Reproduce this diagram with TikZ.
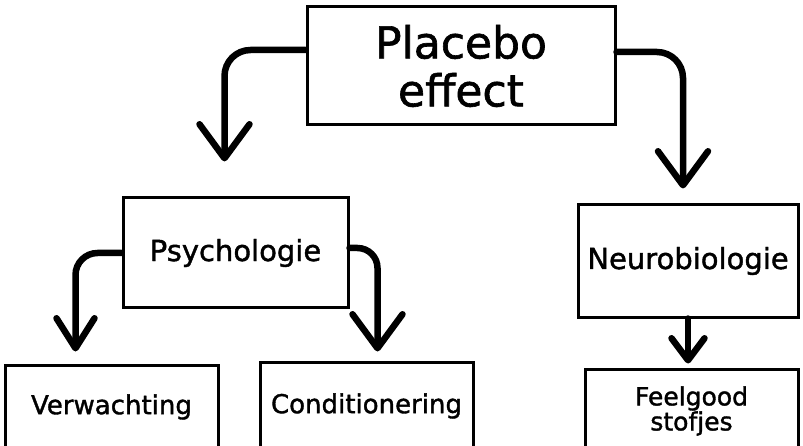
\documentclass[tikz,border=0pt]{standalone}
\usepackage{fontspec}
\setmainfont{DejaVu Sans}[FakeBold=1.4]
\usetikzlibrary{arrows.meta}

\begin{document}
\begin{tikzpicture}[x=1pt, y=-1pt,
        box/.style={draw, line width=3pt, inner sep=0pt, align=center},
        flow/.style={line width=6.5pt, line cap=round, rounded corners=26pt,
            -{Straight Barb[round, length=34pt, width=50pt]}}]
    \clip (0, 0) rectangle (803, 446);

    \node[box, minimum width=308pt, minimum height=118pt,
        font=\fontsize{44}{48}\selectfont] (placebo) at (461, 66) {Placebo\\effect};

    \node[box, minimum width=225pt, minimum height=110pt,
        font=\fontsize{29}{30}\selectfont] (psych) at (235.5, 253) {Psychologie};
    \node[box, minimum width=220pt, minimum height=112pt,
        font=\fontsize{29}{30}\selectfont] (neuro) at (688, 261) {Neurobiologie};

    \node[box, minimum width=213pt, minimum height=84pt,
        font=\fontsize{26}{28}\selectfont] (verw) at (111.5, 407) {Verwachting};
    \node[box, minimum width=213pt, minimum height=88pt,
        font=\fontsize{26}{28}\selectfont] (cond) at (366.5, 406) {Conditionering};
    \node[box, minimum width=213pt, minimum height=84pt,
        font=\fontsize{25}{25}\selectfont] (feel) at (691.5, 411) {Feelgood\\stofjes};

    \draw[flow, shorten >=35pt] ([yshift=16pt]placebo.west) -| ([xshift=-11pt]psych.north);
    \draw[flow, shorten >=15pt] ([yshift=14pt]placebo.east) -| ([xshift=-5pt]neuro.north);

    \draw[flow, rounded corners=22pt, shorten >=12pt, -{Straight Barb[round, length=30pt, width=38pt]}]
        (psych.west) -| ([xshift=-36pt]verw.north);
    \draw[flow, rounded corners=20pt, shorten >=9pt]
        ([yshift=5pt]psych.east) -| ([xshift=11pt]cond.north);

    \draw[flow, shorten >=4pt, -{Straight Barb[round, length=22pt, width=33pt]}]
        (neuro.south) -- (neuro.south |- feel.north);
\end{tikzpicture}
\end{document}
